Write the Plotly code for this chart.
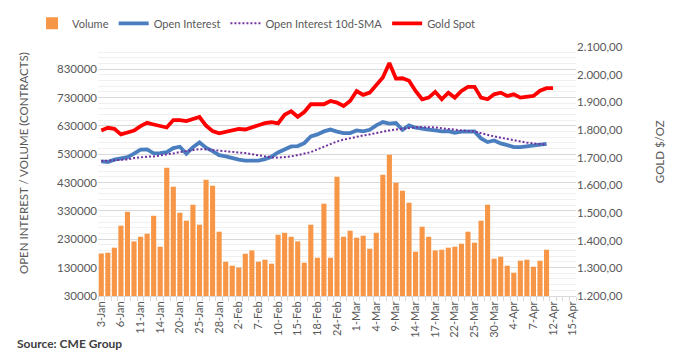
import plotly.graph_objects as go

dates = ["3-Jan","4-Jan","5-Jan","6-Jan","7-Jan","10-Jan","11-Jan","12-Jan","13-Jan","14-Jan",
         "18-Jan","19-Jan","20-Jan","21-Jan","24-Jan","25-Jan","26-Jan","27-Jan","28-Jan","31-Jan",
         "1-Feb","2-Feb","3-Feb","4-Feb","7-Feb","8-Feb","9-Feb","10-Feb","11-Feb","14-Feb",
         "15-Feb","16-Feb","17-Feb","18-Feb","22-Feb","23-Feb","24-Feb","25-Feb","28-Feb",
         "1-Mar","2-Mar","3-Mar","4-Mar","7-Mar","8-Mar","9-Mar","10-Mar","11-Mar","14-Mar",
         "15-Mar","16-Mar","17-Mar","18-Mar","21-Mar","22-Mar","23-Mar","24-Mar","25-Mar","28-Mar",
         "29-Mar","30-Mar","31-Mar","1-Apr","4-Apr","5-Apr","6-Apr","7-Apr","8-Apr","11-Apr",
         "12-Apr","13-Apr","14-Apr","15-Apr"]

volume = [180000,182700,200400,278000,327000,222600,239000,249700,313000,203900,
          482500,415500,323800,295600,352000,281500,440000,419000,256800,151000,
          136900,130000,179000,190800,151000,158000,144000,246000,253000,239000,
          222600,147500,281500,165000,355600,165000,450800,239000,260300,235600,
          242700,196800,253000,457900,528400,429600,401400,359100,186300,274400,
          239000,190800,193300,200400,203900,214500,256800,218000,295600,352000,
          161600,168600,136900,112200,154500,158000,133300,154500,193300]

open_interest = [504800,502300,510800,516400,519900,532000,546000,547100,533000,534000,
                 537600,551700,556600,532000,555200,571800,553100,541100,527000,522400,
                 515400,510800,507200,505800,507200,512900,521400,536500,548200,557700,
                 558800,569300,593000,600000,610600,617000,610000,604600,604600,614100,
                 610600,616500,631800,643400,637800,640000,616500,631800,623600,618700,
                 616500,614100,610600,611700,606000,609500,610600,610600,585900,572900,
                 578800,568300,562300,555200,555200,557700,560200,565800,567000]

oi_sma = [505800,507200,508300,510000,511800,516400,519900,521400,522400,525300,
          528400,533000,537600,540700,543600,548200,547100,545300,543600,541800,
          540000,537200,534000,530100,525900,522400,518900,517800,519900,522400,
          527000,532000,537600,547100,556600,567200,575300,581300,587000,593000,
          596500,600000,605300,610600,614100,617700,620500,623600,624700,625800,
          625400,624700,621900,618700,616500,614100,612300,610600,604200,597600,
          593000,588400,583400,578800,574700,570800,568300,565800,563700]

gold_spot = [1798,1808,1804,1784,1791,1798,1814,1826,1820,1814,
             1809,1836,1836,1832,1839,1847,1816,1796,1788,1793,
             1798,1804,1802,1808,1817,1825,1828,1824,1855,1868,
             1848,1865,1893,1893,1893,1905,1899,1887,1905,1941,
             1927,1935,1965,1990,2042,1986,1987,1978,1941,1911,
             1917,1938,1911,1935,1917,1941,1956,1956,1917,1911,
             1929,1935,1923,1929,1917,1919,1923,1942,1951,1951]

left_ticks = list(range(30000, 830001, 100000))
right_ticks = list(range(1200, 2101, 100))

FONT = "Lato"
GREY = "#595959"

fig = go.Figure()
fig.add_trace(go.Bar(x=dates[:len(volume)], y=volume, name="Volume",
                     marker=dict(color="#F79646", line=dict(width=0))))
fig.add_trace(go.Scatter(x=dates[:len(open_interest)], y=open_interest, name="Open Interest",
                         mode="lines", line=dict(color="#4A7EBF", width=3.8)))
fig.add_trace(go.Scatter(x=dates[:len(oi_sma)], y=oi_sma, name="Open Interest 10d-SMA",
                         mode="lines", line=dict(color="#7030A0", width=2, dash="2px,2px")))
fig.add_trace(go.Scatter(x=dates[:len(gold_spot)], y=gold_spot, name="Gold Spot", yaxis="y2",
                         mode="lines", line=dict(color="#FF0000", width=3.8)))

fig.update_layout(
    width=675, height=362,
    margin=dict(l=98, r=99, t=47, b=66, autoexpand=False),
    paper_bgcolor="white", plot_bgcolor="white",
    separators=",.",
    font=dict(family=FONT, size=11, color=GREY),
    bargap=0.22,
    showlegend=True,
    hovermode=False,
    legend=dict(orientation="h", x=-0.138, xanchor="left", y=1.095, yanchor="middle",
                font=dict(size=11, color=GREY), itemwidth=30, tracegroupgap=0),
    xaxis=dict(type="category", categoryorder="array", categoryarray=dates,
               tickmode="linear", tick0=0, dtick=1, ticklabelstep=3,
               tickangle=-90, tickfont=dict(size=11, color=GREY),
               ticks="outside", tickson="boundaries", ticklen=4, tickcolor="#D9D9D9",
               showline=True, linecolor="#D9D9D9", linewidth=1, showgrid=False,
               range=[-0.5, len(dates) - 0.5]),
    yaxis=dict(range=[30000, 908300], tickmode="array", tickvals=left_ticks,
               tickformat=".0f", tickfont=dict(size=11.5, color=GREY),
               showgrid=True, gridcolor="#D9D9D9", gridwidth=1, zeroline=False,
               minor=dict(tick0=30000, dtick=20000, showgrid=True, gridcolor="#F0F0F0", gridwidth=1),
               showline=False, ticks=""),
    yaxis2=dict(range=[1200, 2100], overlaying="y", side="right", tickmode="array",
                tickvals=right_ticks, tickformat=",.2f", tickfont=dict(size=11.5, color=GREY),
                showgrid=False, zeroline=False, showline=False, ticks=""),
)

fig.add_annotation(text="OPEN INTEREST / VOLUME (CONTRACTS)", textangle=-90,
                   xref="paper", yref="paper", x=-0.157, y=0.534,
                   xanchor="center", yanchor="middle", showarrow=False,
                   font=dict(size=11.5, color=GREY, family=FONT))
fig.add_annotation(text="GOLD $/OZ", textangle=-90,
                   xref="paper", yref="paper", x=1.174, y=0.578,
                   xanchor="center", yanchor="middle", showarrow=False,
                   font=dict(size=11.5, color=GREY, family=FONT))
fig.add_annotation(text="<b>Source: CME Group</b>",
                   xref="paper", yref="paper", x=-0.174, y=-0.189,
                   xanchor="left", yanchor="middle", showarrow=False,
                   font=dict(size=12, color="#404040", family=FONT))

fig.write_html("out.html", config={"displayModeBar": False},
               post_script="document.body.style.margin='0px';document.body.style.overflow='hidden';")
